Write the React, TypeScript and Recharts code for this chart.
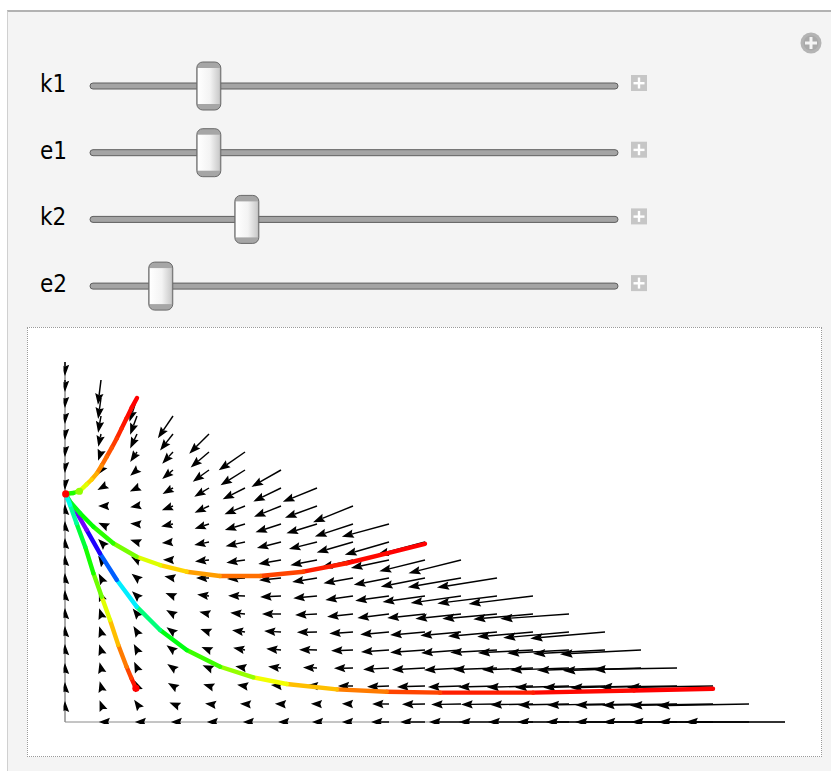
import React from 'react';
import { ScatterChart, Scatter, XAxis, YAxis, ReferenceLine } from 'recharts';

// ---------- data ----------
const colValues = [0, 1, 2, 3, 4, 5, 6, 7, 8, 9, 10, 11, 12, 13, 14, 15, 16, 17, 18, 19, 20];
const rowValues = [0, 1, 2, 3, 4, 5, 6, 7, 8, 9, 10, 11, 12, 13, 14, 15, 16, 17, 18, 19, 20];

// x-component of the field vector at (col i, row j): fieldU[j][i]
const fieldU = [
  [0, -0.06, -0.06, -0.06, -0.06, -0.06, -0.08, -0.14, -0.31, -0.5, -0.69, -0.89, -1.06, -1.25, -1.44, -1.64, -1.83, -2.06, -2.28, -2.53, -2.78],
  [0, -0.04, -0.08, -0.1, -0.11, -0.14, -0.17, -0.17, -0.31, -0.47, -0.64, -0.83, -1.0, -1.19, -1.42, -1.61, -1.83, -2.08, -2.31, -2.56],
  [0, -0.036, -0.065, -0.14, -0.16, -0.22, -0.28, -0.28, -0.42, -0.61, -0.78, -0.92, -1.08, -1.28, -1.5, -1.72, -1.97, -2.14, -2.39],
  [0, -0.04, -0.08, -0.16, -0.18, -0.27, -0.36, -0.39, -0.53, -0.72, -0.92, -1.03, -1.22, -1.42, -1.64, -1.89, -2.17, -2.33],
  [0, -0.05, -0.09, -0.18, -0.21, -0.33, -0.41, -0.5, -0.61, -0.78, -0.97, -1.11, -1.3, -1.53, -1.72, -2.0, -2.25],
  [0, -0.05, -0.1, -0.18, -0.24, -0.36, -0.47, -0.56, -0.66, -0.8, -0.97, -1.13, -1.36, -1.55, -1.83, -2.08],
  [0, -0.05, -0.12, -0.19, -0.27, -0.41, -0.53, -0.61, -0.72, -0.88, -1.05, -1.27, -1.52, -1.66, -1.91],
  [0, -0.06, -0.14, -0.21, -0.33, -0.47, -0.58, -0.66, -0.77, -0.94, -1.18, -1.4, -1.66, -1.79],
  [0, -0.065, -0.15, -0.24, -0.36, -0.5, -0.61, -0.69, -0.82, -0.98, -1.23, -1.48, -1.67],
  [0, -0.08, -0.17, -0.28, -0.39, -0.52, -0.63, -0.74, -0.89, -1.06, -1.27, -1.46],
  [0, -0.08, -0.19, -0.31, -0.41, -0.54, -0.67, -0.78, -1.01, -1.23, -1.34],
  [0, -0.075, -0.19, -0.33, -0.4, -0.56, -0.71, -0.85, -1.06, -1.31],
  [0, -0.08, -0.19, -0.31, -0.4, -0.57, -0.75, -0.89, -1.11],
  [0, -0.1, -0.2, -0.29, -0.41, -0.62, -0.77, -0.95],
  [0, -0.095, -0.19, -0.3, -0.45, -0.68, -0.82],
  [0, -0.08, -0.19, -0.3, -0.51, -0.73],
  [0, -0.075, -0.19, -0.36, -0.55],
  [0, -0.08, -0.19, -0.42],
  [0, -0.08, -0.21],
  [0, -0.085],
  [0],
];

// y-component of the field vector: fieldV[j][i]
const fieldV = [
  [0, 0, 0, 0, 0, 0, 0, 0, 0, 0, 0, 0, 0, 0, 0, 0, 0, 0, 0, 0, 0],
  [0.17, 0.21, 0.23, 0.08, 0.03, 0.02, 0.02, 0.01, 0.01, 0, -0.02, -0.03, -0.03, -0.04, -0.05, -0.06, -0.06, -0.07, -0.08, -0.09],
  [0.22, 0.27, 0.31, 0.17, 0.1, 0.07, 0.06, 0.04, 0, -0.04, -0.05, -0.06, -0.06, -0.07, -0.08, -0.09, -0.1, -0.07, -0.08],
  [0.28, 0.32, 0.35, 0.22, 0.15, 0.1, 0.08, 0.03, -0.02, -0.08, -0.1, -0.11, -0.09, -0.1, -0.11, -0.13, -0.15, -0.08],
  [0.33, 0.32, 0.34, 0.27, 0.17, 0.12, 0.07, 0.02, -0.04, -0.11, -0.14, -0.16, -0.14, -0.16, -0.18, -0.21, -0.23],
  [0.33, 0.32, 0.33, 0.26, 0.17, 0.1, 0.05, -0.02, -0.09, -0.14, -0.17, -0.2, -0.24, -0.27, -0.32, -0.36],
  [0.33, 0.32, 0.31, 0.22, 0.13, 0.07, 0, -0.06, -0.15, -0.22, -0.22, -0.27, -0.27, -0.29, -0.27],
  [0.33, 0.31, 0.27, 0.17, 0.08, 0.02, -0.06, -0.12, -0.22, -0.26, -0.33, -0.39, -0.41, -0.44],
  [0.28, 0.25, 0.24, 0.1, 0, -0.05, -0.13, -0.22, -0.29, -0.38, -0.48, -0.52, -0.53],
  [0.28, 0.23, 0.19, 0.02, -0.08, -0.15, -0.22, -0.29, -0.41, -0.45, -0.63, -0.73],
  [0.22, 0.16, 0.12, -0.05, -0.17, -0.23, -0.34, -0.39, -0.58, -0.71, -0.72],
  [0.17, 0.07, 0.03, -0.14, -0.26, -0.34, -0.46, -0.52, -0.69, -0.71],
  [0.11, 0, -0.07, -0.23, -0.38, -0.46, -0.6, -0.65, -0.9],
  [-0.11, -0.11, -0.19, -0.33, -0.49, -0.63, -0.75, -0.77],
  [-0.17, -0.27, -0.32, -0.5, -0.65, -0.85, -0.94],
  [-0.28, -0.48, -0.55, -0.65, -0.86, -1.02],
  [-0.33, -0.71, -0.81, -0.92, -1.1],
  [-0.44, -0.93, -1.04, -1.24],
  [-0.56, -1.16, -1.32],
  [-0.67, -1.38],
  [-0.78],
];

// trajectories: [x, y, hue]
const trajTop = [
  [2.0, 18.0, 0.0], [1.85, 17.45, 0.0], [1.71, 16.87, 0.01], [1.57, 16.3, 0.02], [1.44, 15.76, 0.03],
  [1.3, 15.24, 0.045], [1.16, 14.74, 0.06], [1.02, 14.25, 0.08], [0.88, 13.8, 0.1], [0.74, 13.47, 0.125],
  [0.6, 13.2, 0.15], [0.42, 12.85, 0.22], [0.23, 12.72, 0.3], [0.05, 12.68, 0.33],
];
const trajMiddle = [
  [10.0, 9.9, 0.0], [8.94, 9.37, 0.0], [7.82, 8.82, 0.01], [6.62, 8.35, 0.03], [5.42, 8.11, 0.06],
  [4.3, 8.11, 0.085], [3.38, 8.35, 0.12], [2.64, 8.72, 0.16], [1.99, 9.18, 0.22], [1.34, 9.93, 0.29],
  [0.79, 10.85, 0.32], [0.42, 11.6, 0.34], [0.14, 12.24, 0.36], [0.03, 12.62, 0.38],
];
const trajLeft = [
  [1.97, 1.87, 0.0], [1.84, 2.45, 0.03], [1.71, 3.07, 0.06], [1.48, 4.28, 0.1], [1.25, 5.67, 0.15],
  [1.02, 6.96, 0.22], [0.79, 8.26, 0.3], [0.56, 9.74, 0.34], [0.32, 11.04, 0.4], [0.14, 12.06, 0.47],
  [0.03, 12.6, 0.5],
];
const trajLong = [
  [18.0, 1.85, 0.0], [15.8, 1.75, 0.0], [13.0, 1.63, 0.01], [10.42, 1.63, 0.03], [8.94, 1.68, 0.06],
  [7.55, 1.81, 0.1], [6.16, 2.11, 0.15], [5.23, 2.48, 0.2], [4.31, 3.07, 0.27], [3.38, 4.0, 0.32],
  [2.64, 5.11, 0.37], [1.99, 6.41, 0.46], [1.44, 7.89, 0.56], [0.97, 9.37, 0.65], [0.6, 10.67, 0.72],
  [0.28, 11.78, 0.76], [0.08, 12.4, 0.78], [0.0, 12.67, 0.8],
];
const markers = [
  [1.97, 1.87, 0.0],
  [0.4, 12.82, 0.24],
  [0.02, 12.67, 0.0],
];

const sliderNames = ['k1', 'e1', 'k2', 'e2'];
const sliderFractions = [0.225, 0.225, 0.297, 0.134];

// ---------- layout ----------
const X_MIN = 0, X_MAX = 20, Y_MIN = 0, Y_MAX = 20;
const CHART_W = 795, CHART_H = 430;
const MARGIN = { top: 35, right: 37, bottom: 35, left: 38 };
const PLOT_W = CHART_W - MARGIN.left - MARGIN.right;
const PLOT_H = CHART_H - MARGIN.top - MARGIN.bottom;
const PX_X = PLOT_W / (X_MAX - X_MIN);
const PX_Y = PLOT_H / (Y_MAX - Y_MIN);

const hueColor = (h: number) => `hsl(${Math.round(((h % 1) + 1) % 1 * 360)}, 100%, 50%)`;

const arrowData: { x: number; y: number; u: number; v: number }[] = [];
rowValues.forEach((yv, j) => {
  const us = fieldU[j] || [];
  us.forEach((u, i) => {
    arrowData.push({ x: colValues[i], y: yv, u, v: fieldV[j][i] });
  });
});

function ArrowShape(props: any) {
  const { cx, cy, payload } = props;
  if (cx == null || cy == null || !payload) return <g />;
  const dx = payload.u * PX_X;
  const dy = -payload.v * PX_Y;
  const L = Math.hypot(dx, dy);
  if (L < 0.5) return <g />;
  const ux = dx / L, uy = dy / L;
  const tx = cx + dx, ty = cy + dy;
  const h = Math.min(13, 11 + 0.02 * L);
  const w = 4.2;
  const bx = tx - ux * h, by = ty - uy * h;
  const nx = tx - ux * h * 0.85, ny = ty - uy * h * 0.85;
  const px = -uy, py = ux;
  return (
    <g clipPath="url(#arrowClip)">
      {L > h && <line x1={cx} y1={cy} x2={nx} y2={ny} stroke="#000" strokeWidth={1.45} />}
      <polygon
        points={`${tx},${ty} ${bx + px * w},${by + py * w} ${nx},${ny} ${bx - px * w},${by - py * w}`}
        fill="#000"
      />
    </g>
  );
}

const emptyShape = () => <g />;

function segmentsOf(traj: number[][], key: string) {
  const out: React.ReactNode[] = [];
  for (let k = 0; k < traj.length - 1; k++) {
    const a = traj[k], b = traj[k + 1];
    const col = hueColor((a[2] + b[2]) / 2);
    out.push(
      <Scatter
        key={`${key}-${k}`}
        data={[{ x: a[0], y: a[1] }, { x: b[0], y: b[1] }]}
        line={{ stroke: col, strokeWidth: 4.4, strokeLinecap: 'round', strokeLinejoin: 'round' }}
        fill={col}
        shape={emptyShape}
        isAnimationActive={false}
        legendType="none"
      />
    );
  }
  return out;
}

const markerData = markers.map((m) => ({ x: m[0], y: m[1], h: m[2] }));
function MarkerShape(props: any) {
  const { cx, cy, payload } = props;
  if (cx == null) return <g />;
  return <circle cx={cx} cy={cy} r={3.6} fill={hueColor(payload.h)} />;
}

function Slider({ name, frac, index }: { name: string; frac: number; index: number }) {
  const cy = 86 + index * 66.7;
  const x0 = 90, x1 = 618;
  const kx = x0 + frac * (x1 - x0);
  const kw = 24, kh = 48;
  return (
    <g>
      <text
        x={40}
        y={cy + 6}
        fontSize={24}
        fill="#000"
        style={{ fontFamily: "'DejaVu Sans Condensed', 'DejaVu Sans', sans-serif", fontStretch: 'condensed' }}
      >
        {name}
      </text>
      <rect x={x0} y={cy - 3} width={x1 - x0} height={6} rx={3} fill="#a4a4a4" stroke="#5f5f5f" strokeWidth={1} />
      <g>
        <rect x={kx - kw / 2} y={cy - kh / 2} width={kw} height={kh} rx={6} fill="#a6a6a6" stroke="#6a6a6a" strokeWidth={1} />
        <rect x={kx - kw / 2 + 1} y={cy - kh / 2 + 6} width={kw - 2} height={kh - 12} fill="url(#knobGrad)" />
      </g>
      <rect x={631} y={cy - 11} width={16} height={16} fill="#c6c6c6" />
      <rect x={633.5} y={cy - 4} width={11} height={2.4} fill="#fff" />
      <rect x={637.8} y={cy - 8.5} width={2.4} height={11} fill="#fff" />
    </g>
  );
}

export default function App() {
  return (
    <div style={{ position: 'absolute', left: 0, top: 0, width: 831, height: 771, background: '#fff', overflow: 'hidden' }}>
      <div
        style={{
          position: 'absolute',
          left: 7,
          top: 10,
          width: 830,
          height: 770,
          background: '#f4f4f4',
          borderTop: '2px solid #b2b2b2',
          borderLeft: '1px solid #d0d0d0',
        }}
      />
      <svg style={{ position: 'absolute', left: 0, top: 0 }} width={831} height={320}>
        <defs>
          <linearGradient id="knobGrad" x1="0" y1="0" x2="1" y2="0">
            <stop offset="0" stopColor="#ffffff" />
            <stop offset="0.55" stopColor="#f3f3f3" />
            <stop offset="1" stopColor="#c9c9c9" />
          </linearGradient>
          <clipPath id="arrowClip" clipPathUnits="userSpaceOnUse">
            <rect x={MARGIN.left - 1.5} y={MARGIN.top - 20} width={PLOT_W + 40} height={PLOT_H + 22} />
          </clipPath>
        </defs>
        <circle cx={811} cy={43} r={10.5} fill="#b4b4b4" />
        <circle cx={811} cy={43} r={7.5} fill="#a9a9a9" />
        <rect x={805} y={41.5} width={12} height={3} fill="#f4f4f4" />
        <rect x={809.5} y={37} width={3} height={12} fill="#f4f4f4" />
        {sliderNames.map((n, i) => (
          <Slider key={n} name={n} frac={sliderFractions[i]} index={i} />
        ))}
      </svg>
      <div
        style={{
          position: 'absolute',
          left: 27,
          top: 327,
          width: CHART_W,
          height: CHART_H,
          background: '#fff',
          border: '1px dotted #9a9a9a',
          boxSizing: 'border-box',
        }}
      />
      <div style={{ position: 'absolute', left: 27, top: 327 }}>
        <ScatterChart width={CHART_W} height={CHART_H} margin={MARGIN}>
          <XAxis type="number" dataKey="x" domain={[X_MIN, X_MAX]} hide />
          <YAxis type="number" dataKey="y" domain={[Y_MIN, Y_MAX]} hide />
          <ReferenceLine x={0} stroke="#555" strokeWidth={1} />
          <ReferenceLine y={0} stroke="#8a8a8a" strokeWidth={1} />
          <Scatter data={arrowData} shape={ArrowShape} isAnimationActive={false} legendType="none" />
          {segmentsOf(trajLong, 'long')}
          {segmentsOf(trajMiddle, 'mid')}
          {segmentsOf(trajLeft, 'left')}
          {segmentsOf(trajTop, 'top')}
          <Scatter data={markerData} shape={MarkerShape} isAnimationActive={false} legendType="none" />
        </ScatterChart>
      </div>
    </div>
  );
}
